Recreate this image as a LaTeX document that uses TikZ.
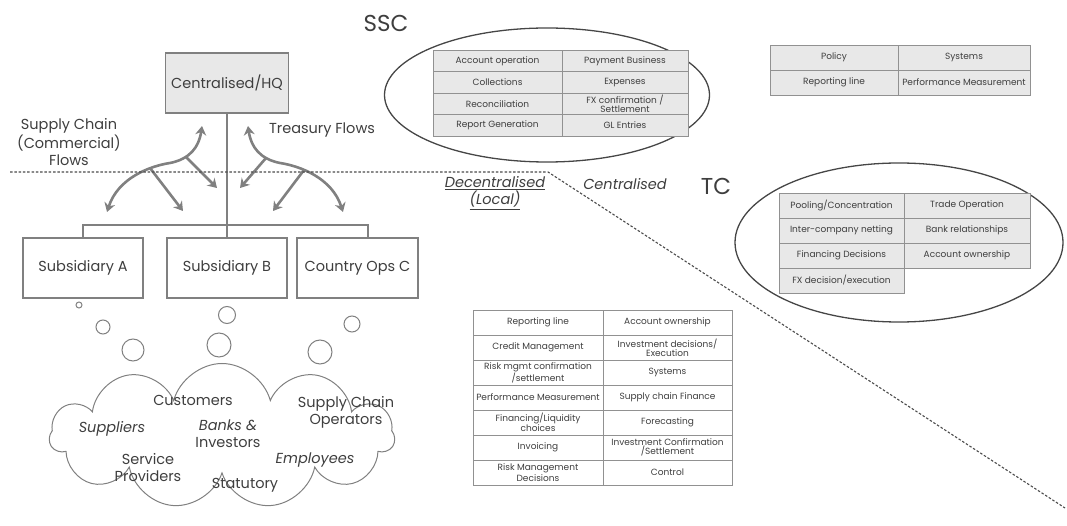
\documentclass[tikz,border=0pt]{standalone}
\usepackage{fontspec}
\setmainfont{Poppins}
\usetikzlibrary{arrows.meta,positioning,shapes.geometric,shapes.symbols}
\definecolor{lineGray}{RGB}{128,128,128}
\definecolor{cellGray}{RGB}{232,232,232}
\definecolor{edgeGray}{RGB}{145,145,145}
\definecolor{inkGray}{RGB}{62,62,62}
\definecolor{ringGray}{RGB}{70,70,70}
\newcommand\tabfont{\fontsize{9}{9.2}\selectfont}
\newcommand\bodyfont{\fontsize{14.5}{17}\selectfont}
\newcommand\bigfont{\fontsize{23}{26}\selectfont}
\tikzset{
  orgbox/.style={draw=lineGray, line width=1.6pt, minimum width=120, minimum height=60, inner sep=1pt},
  tree/.style={draw=lineGray, line width=1.4pt},
  flow/.style={draw=lineGray, line width=2.6pt, >={Stealth[length=9pt,width=11pt]}},
  divider/.style={draw=black!70, line width=1.1pt, dash pattern=on 2.5pt off 1.8pt},
  ring/.style={ellipse, draw=ringGray, line width=1.3pt, inner sep=0pt},
  cell/.style={draw=edgeGray, line width=0.9pt, inner sep=0.5pt, align=center, font=\tabfont, text=inkGray},
  shaded/.style={cell, fill=cellGray},
  bubble/.style={draw=lineGray, line width=1pt},
}
\begin{document}
\begin{tikzpicture}[x=1pt, y=-1pt, font=\bodyfont, text=inkGray]
  \useasboundingbox (0,0) rectangle (1067,526);
  % org chart
  \node[orgbox, fill=cellGray, minimum width=123] (hq) at (227,83) {Centralised/HQ};
  \node[orgbox] (subA) at (83,268) {Subsidiary A};
  \node[orgbox] (subB) at (227,268) {Subsidiary B};
  \node[orgbox, minimum width=121] (subC) at (357.5,268) {Country Ops C};
  \coordinate (busC) at (368,225);
  \draw[tree] (hq.south) -- (subB.north);
  \draw[tree] (subA.north) |- (busC) -- (busC |- subC.north);
  % flows
  \draw[flow, <->] (107,212) .. controls (118,178) and (150,166) .. (170,163)
                   .. controls (190,159) and (199,147) .. (202,126);
  \draw[flow, ->] (150,168) -- (183,211);
  \draw[flow, ->] (186,157) -- (217,188);
  \draw[flow, <->] (248,126) .. controls (251,147) and (260,159) .. (280,163)
                   .. controls (300,166) and (332,178) .. (343,212);
  \draw[flow, ->] (304,170) -- (273,211);
  \draw[flow, ->] (266,158) -- (240,188);
  \node[align=center] (scflow) at (69,142) {Supply Chain\\(Commercial)\\Flows};
  \node (tflow) at (322,130) {Treasury Flows};
  % split line
  \coordinate (splitL) at (10,172);
  \coordinate (splitK) at (548,172);
  \coordinate (splitR) at (1065,508);
  \draw[divider] (splitL) -- (splitK) -- (splitR);
  \node[align=center, font=\bodyfont\itshape] (decent) at (495,193) {\underline{Decentralised}\\\underline{(Local)}};
  \node[font=\bodyfont\itshape] (cent) at (625,184) {Centralised};
  % SSC
  \node[font=\bigfont] (ssclab) at (386,23) {SSC};
  \node[ring, minimum width=325, minimum height=134] (sscring) at (547,95) {};
  \foreach \r/\y/\a/\b in {1/61/{Account operation}/{Payment Business},
      2/82.5/{Collections}/{Expenses},
      3/104/{Reconciliation}/{FX confirmation /\\Settlement},
      4/125.5/{Report Generation}/{GL Entries}}{
    \node[shaded, minimum width=129, minimum height=21.5] (ssc\r a) at (497.5,\y) {\a};
    \node[shaded, minimum width=126, minimum height=21.5] (ssc\r b) at (625,\y) {\b};
  }
  % global
  \foreach \r/\y/\a/\b in {1/57.5/{Policy}/{Systems},
      2/82.5/{Reporting line}/{Performance Measurement}}{
    \node[shaded, minimum width=128, minimum height=25] (gl\r a) at (834,\y) {\a};
    \node[shaded, minimum width=132, minimum height=25] (gl\r b) at (964,\y) {\b};
  }
  % TC
  \node[font=\bigfont] (tclab) at (716,186) {TC};
  \node[ring, minimum width=328, minimum height=159] (tcring) at (899,242.5) {};
  \foreach \r/\y/\a/\b in {1/205.5/{Pooling/Concentration}/{Trade Operation},
      2/230.5/{Inter-company netting}/{Bank relationships},
      3/255.5/{Financing Decisions}/{Account ownership}}{
    \node[shaded, minimum width=125, minimum height=25] (tc\r a) at (841.5,\y) {\a};
    \node[shaded, minimum width=126, minimum height=25] (tc\r b) at (967,\y) {\b};
  }
  \node[shaded, minimum width=125, minimum height=25] (tc4a) at (841.5,280.5) {FX decision/execution};
  % local
  \foreach \r/\a/\b in {1/{Reporting line}/{Account ownership},
      2/{Credit Management}/{Investment decisions/\\Execution},
      3/{Risk mgmt confirmation\\/settlement}/{Systems},
      4/{Performance Measurement}/{Supply chain Finance},
      5/{Financing/Liquidity\\choices}/{Forecasting},
      6/{Invoicing}/{Investment Confirmation\\/Settlement},
      7/{Risk Management\\Decisions}/{Control}}{
    \node[cell, minimum width=130, minimum height=25] (loc\r a) at (538,285+25*\r+12.5) {\a};
    \node[cell, minimum width=129, minimum height=25] (loc\r b) at (667.5,285+25*\r+12.5) {\b};
  }
  % thought bubbles
  \draw[bubble] (79,305) circle[radius=3pt] (103,327) circle[radius=7pt] (133,350) circle[radius=11pt];
  \draw[bubble] (227,315) circle[radius=8.5pt] (219,345) circle[radius=12pt];
  \draw[bubble] (352,324) circle[radius=8pt] (320,352) circle[radius=12pt];
  % stakeholders
  \node[cloud, draw=lineGray, line width=1pt, cloud puffs=11, aspect=2.4,
        minimum width=345, minimum height=145] (crowd) at (222,436) {};
  \node (cust) at (193,400) {Customers};
  \node[font=\bodyfont\itshape] (supp) at (112,429) {Suppliers};
  \node[align=center] (banks) at (228,434) {\textit{Banks \&}\\Investors};
  \node[align=center] (serv) at (148,468) {Service\\Providers};
  \node (stat) at (245,485) {Statutory};
  \node[font=\bodyfont\itshape] (empl) at (315,460) {Employees};
  \node[align=center] (scops) at (346,412) {Supply Chain\\Operators};
\end{tikzpicture}
\end{document}
